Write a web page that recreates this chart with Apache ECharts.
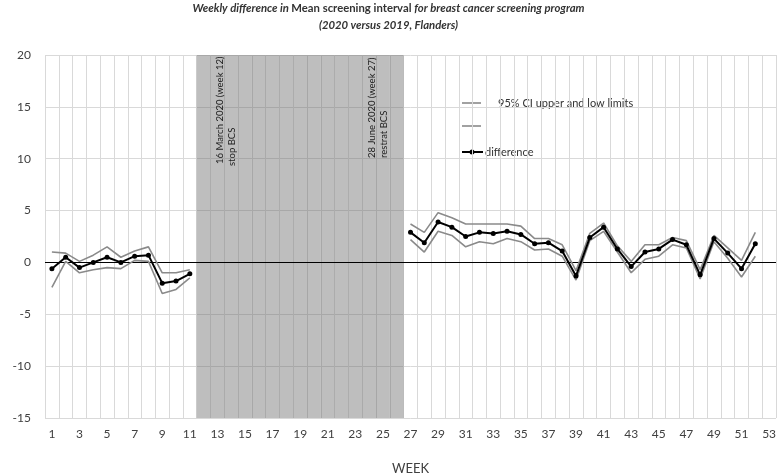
<!DOCTYPE html>
<html>
<head>
<meta charset="utf-8">
<script src="https://cdn.jsdelivr.net/npm/echarts@6/dist/echarts.min.js"></script>
<style>
html,body{margin:0;padding:0;background:#fff;}
#chart{width:777px;height:476px;}
</style>
</head>
<body>
<div id="chart"></div>
<script>
// ---- data ----
const weeks = Array.from({length: 53}, (_, i) => String(i + 1));
const diffBefore  = [-0.6, 0.5, -0.5, 0.0, 0.5, 0.0, 0.6, 0.7, -2.0, -1.8, -1.1];          // weeks 1-11
const upperBefore = [1.0, 0.9, 0.1, 0.7, 1.5, 0.5, 1.1, 1.5, -1.0, -1.0, -0.7];
const lowerBefore = [-2.4, 0.1, -1.0, -0.7, -0.5, -0.6, 0.2, 0.1, -3.0, -2.6, -1.5];
const diffAfter  = [2.9, 1.9, 3.9, 3.4, 2.5, 2.9, 2.8, 3.0, 2.7, 1.8, 1.9, 1.1, -1.3, 2.4, 3.4, 1.3, -0.4, 1.0, 1.3, 2.2, 1.7, -1.2, 2.3, 0.9, -0.6, 1.8]; // weeks 27-52
const upperAfter = [3.7, 2.9, 4.8, 4.3, 3.7, 3.7, 3.7, 3.7, 3.5, 2.3, 2.3, 1.7, -0.8, 2.8, 3.8, 1.6, 0.1, 1.7, 1.7, 2.4, 2.1, -0.7, 2.6, 1.4, 0.2, 2.9];
const lowerAfter = [2.2, 1.0, 3.0, 2.6, 1.5, 2.0, 1.8, 2.3, 2.0, 1.2, 1.3, 0.6, -1.7, 2.1, 3.0, 1.0, -1.0, 0.3, 0.6, 1.7, 1.4, -1.6, 2.0, 0.4, -1.4, 0.6];
const stopWeek = 12, lastStoppedWeek = 26;   // screening stopped (shaded)
const yMin = -15, yMax = 20, yStep = 5;

function fullSeries(before, after) {
  const out = [];
  for (let w = 1; w <= 53; w++) {
    if (w <= before.length) out.push(before[w - 1]);
    else if (w >= lastStoppedWeek + 1 && w - lastStoppedWeek - 1 < after.length) out.push(after[w - lastStoppedWeek - 1]);
    else out.push(null);
  }
  return out;
}
const diff = fullSeries(diffBefore, diffAfter);
const upper = fullSeries(upperBefore, upperAfter);
const lower = fullSeries(lowerBefore, lowerAfter);
const shadeTop = weeks.map((w, i) => (i + 1 >= stopWeek && i + 1 <= lastStoppedWeek) ? yMax : null);
const shadeBottom = weeks.map((w, i) => (i + 1 >= stopWeek && i + 1 <= lastStoppedWeek) ? yMin : null);

const FONT = 'Lato, "Open Sans", sans-serif';
const chart = echarts.init(document.getElementById('chart'), null, {renderer: 'canvas'});
chart.setOption({
  animation: false,
  backgroundColor: '#fff',
  textStyle: {fontFamily: FONT},
  title: {
    text: '{i|Weekly difference in }{n|Mean screening interval }{i|for breast cancer screening program}\n{i|(2020 versus 2019, Flanders)}',
    left: 'center',
    top: -5,
    textStyle: {
      fontSize: 11,
      lineHeight: 17,
      rich: {
        i: {fontStyle: 'italic', fontSize: 11.3, color: '#333', fontFamily: FONT, lineHeight: 17},
        n: {fontStyle: 'normal', fontSize: 11.3, color: '#333', fontFamily: FONT, lineHeight: 17}
      }
    }
  },
  grid: {left: 45, right: 1, top: 55, bottom: 58, containLabel: false, outerBoundsMode: 'none'},
  xAxis: {
    type: 'category',
    data: weeks,
    boundaryGap: true,
    name: 'WEEK',
    nameLocation: 'middle',
    nameGap: 44,
    nameTextStyle: {fontSize: 13, color: '#404040', fontFamily: FONT},
    axisLine: {show: false},
    axisTick: {show: false},
    axisLabel: {interval: 1, margin: 10, fontSize: 12, color: '#404040', fontFamily: FONT},
    splitLine: {show: true, interval: 0, lineStyle: {color: '#d9d9d9', width: 1}}
  },
  yAxis: {
    type: 'value',
    min: yMin, max: yMax, interval: yStep,
    name: 'month',
    nameLocation: 'middle',
    nameGap: 27,
    nameRotate: 90,
    nameTextStyle: {fontSize: 14, color: '#404040', fontFamily: FONT},
    axisLine: {show: false},
    axisTick: {show: false},
    axisLabel: {margin: 14, fontSize: 12, color: '#404040', fontFamily: FONT},
    splitLine: {show: true, lineStyle: {color: '#d9d9d9', width: 1}}
  },
  series: [
    {
      type: 'bar', data: shadeTop, barWidth: '100%', barGap: '-100%', barCategoryGap: 0,
      itemStyle: {color: 'rgba(100,100,100,0.42)'}, z: 1, silent: true
    },
    {
      type: 'bar', data: shadeBottom, barWidth: '100%', barGap: '-100%', barCategoryGap: 0,
      itemStyle: {color: 'rgba(100,100,100,0.42)'}, z: 1, silent: true
    },
    {
      name: '95% CI upper and low limits', type: 'line', data: upper, symbol: 'none',
      lineStyle: {color: '#8a8a8a', width: 1.6}, z: 3, connectNulls: false
    },
    {
      name: 'lower', type: 'line', data: lower, symbol: 'none',
      lineStyle: {color: '#8a8a8a', width: 1.6}, z: 3, connectNulls: false
    },
    {
      name: 'difference', type: 'line', data: diff, symbol: 'circle', symbolSize: 5,
      itemStyle: {color: '#000'}, lineStyle: {color: '#000', width: 2}, z: 4, connectNulls: false,
      markLine: {
        silent: true, symbol: ['none', 'none'], label: {show: false},
        lineStyle: {color: '#000', width: 1.2, type: 'solid'},
        data: [{yAxis: 0}], z: 2
      }
    }
  ],
  graphic: [
    {type: 'line', shape: {x1: 462, y1: 103, x2: 481, y2: 103}, style: {stroke: '#8a8a8a', lineWidth: 1.6}},
    {type: 'text', x: 498, y: 103, style: {text: '95% CI upper and low limits', font: '11px ' + FONT, fill: '#333', verticalAlign: 'middle'}},
    {type: 'line', shape: {x1: 462, y1: 126, x2: 481, y2: 126}, style: {stroke: '#8a8a8a', lineWidth: 1.6}},
    {type: 'line', shape: {x1: 462, y1: 152, x2: 483, y2: 152}, style: {stroke: '#000', lineWidth: 2}},
    {type: 'circle', shape: {cx: 472, cy: 152, r: 2.5}, style: {fill: '#000'}},
    {type: 'text', x: 485, y: 152, style: {text: 'difference', font: '11px ' + FONT, fill: '#333', verticalAlign: 'middle'}},
    {type: 'text', x: 220, y: 164, rotation: Math.PI / 2, z: 10, style: {text: '16 March 2020 (week 12)', font: '9.5px ' + FONT, fill: '#222', align: 'left', verticalAlign: 'middle'}},
    {type: 'text', x: 232, y: 166, rotation: Math.PI / 2, z: 10, style: {text: 'stop BCS', font: '9.5px ' + FONT, fill: '#222', align: 'left', verticalAlign: 'middle'}},
    {type: 'text', x: 372, y: 158, rotation: Math.PI / 2, z: 10, style: {text: '28 June 2020 (week 27)', font: '9.5px ' + FONT, fill: '#222', align: 'left', verticalAlign: 'middle'}},
    {type: 'text', x: 384, y: 158, rotation: Math.PI / 2, z: 10, style: {text: 'restrat BCS', font: '9.5px ' + FONT, fill: '#222', align: 'left', verticalAlign: 'middle'}}
  ]
});
</script>
</body>
</html>
